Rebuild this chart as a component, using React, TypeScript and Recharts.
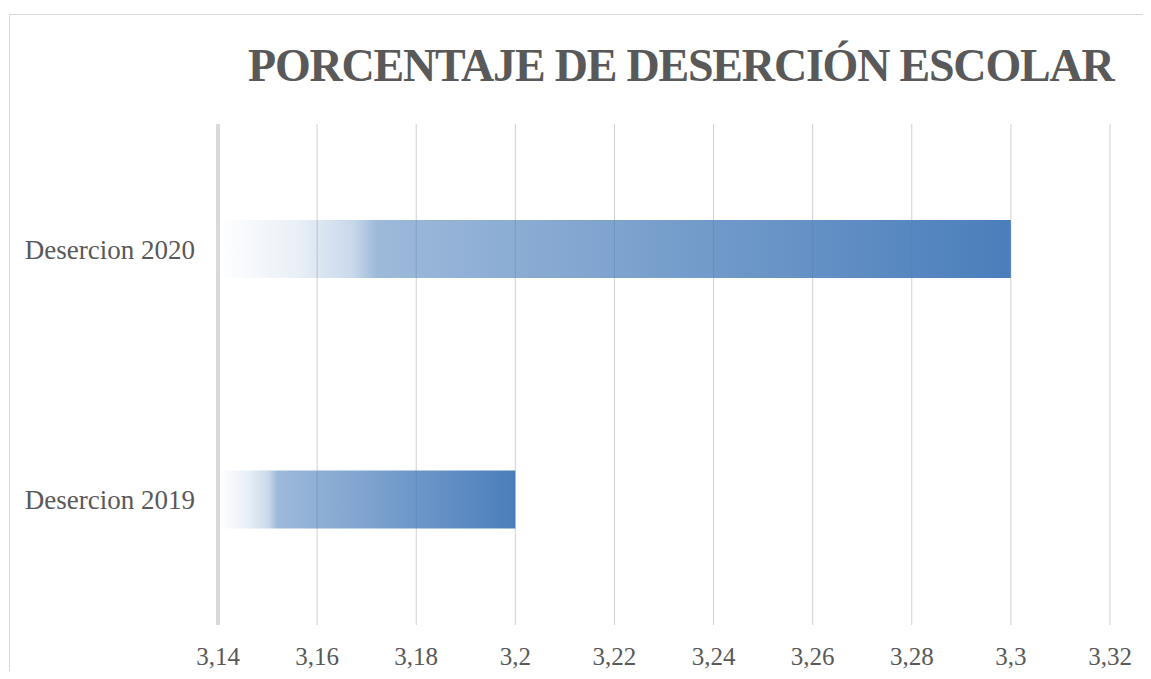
import { BarChart, Bar, XAxis, YAxis, CartesianGrid } from "recharts";

const categories = ["Desercion 2020", "Desercion 2019"];
const values = [3.3, 3.2];
const xTicks = [3.14, 3.16, 3.18, 3.2, 3.22, 3.24, 3.26, 3.28, 3.3, 3.32];
const title = "PORCENTAJE DE DESERCIÓN ESCOLAR";

const data = categories.map((name, i) => ({ name, value: values[i] }));

const textColor = "#595959";
const gridColor = "#d0d0d0";

export default function App() {
  return (
    <div style={{ position: "relative", width: 1135, height: 663, overflow: "hidden", background: "#fff" }}>
      {/* chart frame, right and bottom edges fall outside the picture */}
      <div
        style={{
          position: "absolute",
          left: 1,
          top: 6,
          width: 2000,
          height: 2000,
          border: "1px solid #d9d9d9",
        }}
      />
      <div
        style={{
          position: "absolute",
          left: 240,
          top: 30,
          width: 880,
          whiteSpace: "nowrap",
          fontFamily: "Liberation Serif",
          fontWeight: "bold",
          fontSize: 46,
          letterSpacing: -1.2,
          lineHeight: "56px",
          color: textColor,
        }}
      >
        {title}
      </div>
      <div style={{ position: "absolute", left: 0, top: 0 }}>
        <BarChart
          width={1135}
          height={663}
          data={data}
          layout="vertical"
          margin={{ top: 116, right: 33, bottom: 0, left: 0 }}
        >
          <defs>
            <linearGradient id="barFade" x1="0" y1="0" x2="1" y2="0">
              <stop offset="0" stopColor="#4a7ebb" stopOpacity={0} />
              <stop offset="0.1" stopColor="#4a7ebb" stopOpacity={0.12} />
              <stop offset="0.17" stopColor="#4a7ebb" stopOpacity={0.3} />
              <stop offset="0.2" stopColor="#4a7ebb" stopOpacity={0.54} />
              <stop offset="1" stopColor="#4a7ebb" stopOpacity={1} />
            </linearGradient>
          </defs>
          <CartesianGrid horizontal={false} stroke={gridColor} />
          <XAxis
            type="number"
            domain={[3.14, 3.32]}
            ticks={xTicks}
            interval={0}
            height={46}
            axisLine={false}
            tickLine={false}
            tickSize={0}
            tickMargin={22}
            tickFormatter={(v: number) => String(v).replace(".", ",")}
            tick={{ fill: textColor, fontSize: 25, fontFamily: "Liberation Serif" }}
          />
          <YAxis
            type="category"
            dataKey="name"
            width={210}
            axisLine={{ stroke: "#d9d9d9", strokeWidth: 4 }}
            tickLine={false}
            tickSize={0}
            tickMargin={23}
            tick={{ fill: textColor, fontSize: 27, fontFamily: "Liberation Serif" }}
          />
          <Bar dataKey="value" fill="url(#barFade)" barSize={58} isAnimationActive={false} />
        </BarChart>
      </div>
    </div>
  );
}
